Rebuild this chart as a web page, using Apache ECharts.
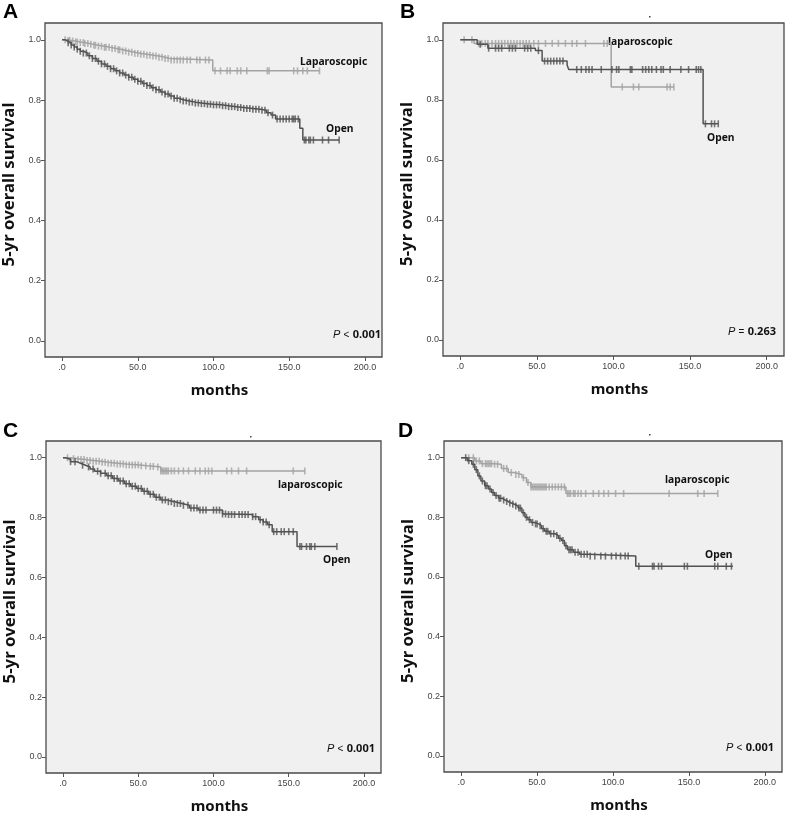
<!DOCTYPE html>
<html><head><meta charset="utf-8">
<script src="https://cdn.jsdelivr.net/npm/echarts@6/dist/echarts.min.js"></script>
<style>html,body{margin:0;padding:0;background:#fff}#c{width:785px;height:815px}</style>
</head><body><div id="c"></div>
<script>
// ---------- data ----------
const xTicks = [0, 50, 100, 150, 200];
const yTicks = [0, 0.2, 0.4, 0.6, 0.8, 1.0];
const panelLetters = ['A', 'B', 'C', 'D'];
const pTexts = [['<', '0.001'], ['=', '0.263'], ['<', '0.001'], ['<', '0.001']];
const lapNames = ['Laparoscopic', 'laparoscopic', 'laparoscopic', 'laparoscopic'];

// Panel A
const A_lapT = [0,3,6,9,12,15,18,21,24,28,32,36,40,44,48,52,56,60,64,68,71,99.5];
const A_lapS = [1,0.998,0.996,0.993,0.991,0.988,0.985,0.982,0.979,0.975,0.971,0.967,0.963,0.959,0.955,0.952,0.949,0.946,0.942,0.938,0.933,0.897];
const A_lapEnd = 170;
const A_lapC = [2,4,5,7,9,10,12,14,15,17,19,21,22,24,26,28,29,31,33,35,37,38,40,42,44,46,48,50,52,54,56,58,60,62,64,66,68,70,72,74,76,78,80,82.5,84.7,89,91,94.7,97,101,104.6,109,111,115.7,118,122,135.6,136.7,153,155.5,159,162,170];
const A_openT = [0,2,4,6,8,10,12,14,17,20,23,26,29,32,35,38,41,44,47,50,53,56,59,62,65,68,71,74,77,80,84,88,92,96,100,105,110,115,120,126,131,135,138,141,157,159];
const A_openS = [1,0.995,0.99,0.983,0.976,0.969,0.962,0.956,0.947,0.938,0.929,0.92,0.912,0.904,0.897,0.89,0.883,0.876,0.869,0.862,0.855,0.848,0.841,0.834,0.827,0.82,0.813,0.806,0.801,0.797,0.793,0.79,0.788,0.786,0.784,0.781,0.778,0.775,0.772,0.769,0.766,0.758,0.75,0.737,0.706,0.667];
const A_openEnd = 183;
const A_openC = [4,6,8,10,12,14,16,18,20,22,24,26,28,30,32,34,36,38,40,42,44,46,48,50,52,54,56,58,60,62,64,66,68,70,72,74,76,78,80,82,84,86,88,90,92,94,96,98,100,102,104,106,108,110,112,114,116,118,120,122,124,126,128,130,132,134,136,139,142,144,146,148,150,152,153,154,156,160,161,163,164,166,172,176,183];

// Panel B
const B_lapT = [0,9,98.5];
const B_lapS = [1,0.988,0.843];
const B_lapEnd = 139.4;
const B_lapC = [2.5,7.6,12,14,16.3,18,20.7,23,25,27,29,31,33,35,37,39,41,43,45,48,51,55.6,60,64,68.6,73,76,81.7,93.7,95.9,105.7,113,116.5,135,137,139.4];
const B_openT = [0,11,18,49,53.4,69.7,70.8,158.5];
const B_openS = [1,0.985,0.972,0.964,0.929,0.916,0.901,0.72];
const B_openEnd = 168.4;
const B_openC = [13,18.5,23,25,27,32,34,36,42,44,46,51,55,57,59,61,63,65,67,76,79,82,84,86,92,99,102,103.5,111,112,119,121,123,125,128,131,132.5,137,144,149,154,155.5,157,160,164,166,168.4];

// Panel C
const C_lapT = [0,5,10,15,20,25,30,36,42,51,56,62,65];
const C_lapS = [1,0.997,0.994,0.991,0.988,0.985,0.982,0.979,0.976,0.973,0.971,0.969,0.956];
const C_lapEnd = 160.7;
const C_lapC = [3,7,10,12,14,16,18,20,22,24,26,28,30,32,34,36,38,40,42,44,46,48,50,52,55,58,60,63,65,66,67,68,69,70,72,74,76.8,80,83.4,87.9,91,94.5,96.7,98.9,108.8,112,116.6,122,153,160.7];
const C_openT = [0,2,5,9,12,15,18,21,25,29,33,37,41,45,49,53,57,61,65,69,74,79,84,90,106,110,126,130,133,136,139,155.5];
const C_openS = [1,0.994,0.987,0.981,0.975,0.969,0.962,0.955,0.948,0.94,0.931,0.922,0.913,0.905,0.897,0.888,0.878,0.868,0.859,0.853,0.847,0.841,0.832,0.825,0.812,0.81,0.803,0.793,0.785,0.776,0.753,0.703];
const C_openEnd = 182;
const C_openC = [5,8,13,17,20,23,25,28,30,32,34,36,38,40,42,44,46,48,50,52,54,56,58,60,62,64,66,68,70,72,74,76,78,80,83,85,87,89,91,93,95,100,102,104,106,108,110,112,114,117,119,121,123,126,128,131,133,135,137,140,142,145,147,150,153,157.4,158.5,161.8,164,165,167.3,182];

// Panel D
const D_lapT = [0,9,13,22,26.5,31,35,40,43,46,69];
const D_lapS = [1,0.989,0.98,0.978,0.964,0.95,0.944,0.933,0.917,0.902,0.88];
const D_lapEnd = 169;
const D_lapC = [5,8,10,12,14,16,17,18,19,20,22,24,28,30,33,36,38,41,44,46,47,48,49,50,51,52,53,54,55,56,58,60,62,64,66,68,70,71,72,74,75,77,79,82,87,90.6,94,97,101.7,107,137,155.8,160,169];
const D_openT = [0,4,7,9,11,13,15.5,18,20,22,24.5,27,29,31,33,35,37.5,40,42,44,46,48,51,53,55,58,62,64,66,68,70,74,78,84,115];
const D_openS = [1,0.99,0.978,0.96,0.939,0.922,0.906,0.895,0.883,0.873,0.864,0.858,0.853,0.848,0.844,0.838,0.831,0.815,0.8,0.792,0.783,0.778,0.772,0.762,0.753,0.745,0.739,0.73,0.722,0.705,0.691,0.683,0.676,0.67,0.636];
const D_openEnd = 179;
const D_openC = [3,5,8,10,12,14,16,17,19,21,23,25,26,28,30,32,34,36,38,39,41,43,45,47,49,50,52,54,56,57,59,61,63,65,67,69,71,72,73,75,77,79,81,83,85,88,92,95,99,102,105,108,110,117,126,127,130,132,147,149,167,169,174.6,178];

// ---------- build ----------
const panels = [
  {lapT:A_lapT, lapS:A_lapS, lapEnd:A_lapEnd, lapC:A_lapC, openT:A_openT, openS:A_openS, openEnd:A_openEnd, openC:A_openC},
  {lapT:B_lapT, lapS:B_lapS, lapEnd:B_lapEnd, lapC:B_lapC, openT:B_openT, openS:B_openS, openEnd:B_openEnd, openC:B_openC},
  {lapT:C_lapT, lapS:C_lapS, lapEnd:C_lapEnd, lapC:C_lapC, openT:C_openT, openS:C_openS, openEnd:C_openEnd, openC:C_openC},
  {lapT:D_lapT, lapS:D_lapS, lapEnd:D_lapEnd, lapC:D_lapC, openT:D_openT, openS:D_openS, openEnd:D_openEnd, openC:D_openC}
];
const grids = [
  {left:45, top:23, width:337, height:334},
  {left:443, top:23, width:341, height:333},
  {left:46, top:441, width:335, height:332},
  {left:444, top:441, width:338, height:331}
];
const LAP = '#a3a3a3', OPEN = '#525252';
const FONT = 'Noto Sans';

function survAt(T, S, t) {
  let v = S[0];
  for (let i = 0; i < T.length; i++) { if (T[i] <= t) v = S[i]; }
  return v;
}
function curve(T, S, end) {
  const d = T.map((t, i) => [t, S[i]]);
  d.push([end, S[S.length - 1]]);
  return d;
}

const option = {animation:false, grid:[], xAxis:[], yAxis:[], series:[], graphic:[]};
panels.forEach((p, i) => {
  option.grid.push(Object.assign({show:true, backgroundColor:'#f0f0f0', borderColor:'#4a4a4a', borderWidth:1.3, containLabel:false}, grids[i]));
  option.xAxis.push({
    type:'value', gridIndex:i, min:-11.3, max:211.3, position:'bottom',
    name:'months', nameLocation:'middle', nameGap:26,
    nameTextStyle:{fontFamily:FONT, fontWeight:'bold', fontSize:15, color:'#111', padding:[0,0,0,12]},
    axisLine:{show:false, onZero:false}, splitLine:{show:false},
    axisTick:{show:true, customValues:xTicks, length:4, lineStyle:{color:'#555'}},
    axisLabel:{customValues:xTicks, fontFamily:'Liberation Sans', fontSize:9, color:'#444', margin:6,
      formatter:v => v === 0 ? '.0' : v.toFixed(1)}
  });
  option.yAxis.push({
    type:'value', gridIndex:i, min:-0.054, max:1.056, position:'left',
    name:'5-yr overall survival', nameLocation:'middle', nameGap:27, nameRotate:90,
    nameTextStyle:{fontFamily:FONT, fontWeight:'bold', fontSize:16.8, color:'#111', padding:[0,-11,0,0]},
    axisLine:{show:false, onZero:false}, splitLine:{show:false},
    axisTick:{show:true, customValues:yTicks, length:4, lineStyle:{color:'#555'}},
    axisLabel:{customValues:yTicks, fontFamily:'Liberation Sans', fontSize:9, color:'#444', margin:4,
      formatter:v => v.toFixed(1)}
  });
  option.series.push(
    {type:'line', xAxisIndex:i, yAxisIndex:i, step:'end', symbol:'none', data:curve(p.lapT, p.lapS, p.lapEnd), lineStyle:{color:LAP, width:1.5}, z:2},
    {type:'scatter', xAxisIndex:i, yAxisIndex:i, symbol:'rect', symbolSize:[1.6,7], itemStyle:{color:LAP}, data:p.lapC.map(c => [c, survAt(p.lapT, p.lapS, c)]), z:2},
    {type:'line', xAxisIndex:i, yAxisIndex:i, step:'end', symbol:'none', data:curve(p.openT, p.openS, p.openEnd), lineStyle:{color:OPEN, width:1.5}, z:3},
    {type:'scatter', xAxisIndex:i, yAxisIndex:i, symbol:'rect', symbolSize:[1.6,7], itemStyle:{color:OPEN}, data:p.openC.map(c => [c, survAt(p.openT, p.openS, c)]), z:3}
  );
});

// text annotations
const letterPos = [[3,2],[400,2],[3,421],[398,421]];
const lapLabelPos = [[300,57],[608,37],[278,480],[665,475]];
const openLabelPos = [[326,124],[707,133],[323,555],[705,550]];
const pPos = [[381,329],[776,326],[375,743],[774,742]];
panelLetters.forEach((L, i) => {
  option.graphic.push({type:'text', left:letterPos[i][0], top:letterPos[i][1], style:{text:L, font:'bold 21px "Liberation Sans"', fill:'#000'}});
  option.graphic.push({type:'text', left:lapLabelPos[i][0], top:lapLabelPos[i][1], style:{text:lapNames[i], font:'bold 10.3px "Noto Sans"', fill:'#111'}});
  option.graphic.push({type:'text', left:openLabelPos[i][0], top:openLabelPos[i][1], style:{text:'Open', font:'bold 10.3px "Noto Sans"', fill:'#111'}});
  option.graphic.push({type:'text', right:785 - pPos[i][0], top:pPos[i][1], style:{
    text:'{p|P} {o|' + pTexts[i][0] + '} {v|' + pTexts[i][1] + '}',
    rich:{p:{fontFamily:'Liberation Sans', fontStyle:'italic', fontSize:11, fill:'#111'},
          o:{fontFamily:'Liberation Sans', fontSize:10, fill:'#111'},
          v:{fontFamily:'Noto Sans', fontWeight:'bold', fontSize:11, fill:'#111'}}}});
});
// stray dots present in the reference
[[649,16],[250,436],[649,434]].forEach(d => option.graphic.push({type:'rect', shape:{x:d[0], y:d[1], width:1.5, height:1.5}, style:{fill:'#444'}}));

const chart = echarts.init(document.getElementById('c'), null, {renderer:'canvas'});
chart.setOption(option);
</script></body></html>
